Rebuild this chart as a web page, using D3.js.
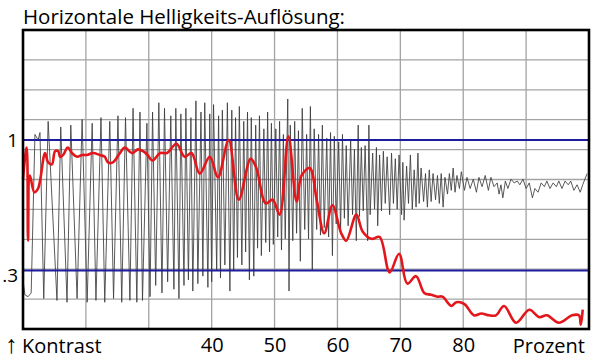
<!DOCTYPE html>
<html>
<head>
<meta charset="utf-8">
<script src="https://cdn.jsdelivr.net/npm/d3@7"></script>
<style>
  body { margin: 0; background: #fff; }
  text { font-family: 'Open Sans', sans-serif; fill: #000; }
</style>
</head>
<body>
<svg id="chart" width="600" height="364"></svg>
<script>
// values
let title = 'Horizontale Helligkeits-Auflösung:'
let xTicks = [40, 50, 60, 70, 80]
let yTicks = [0.3, 1]
let yTickLabels = ['.3', '1']
let refLines = [1, 0.3]

// grey: measured luminance profile [Prozent, Kontrast]
let profile = [
  [10.0, 0.25], [10.3, 0.17], [10.8, 0.16], [11.3, 0.18], [11.9, 1.03], [12.4, 1.00], [12.7, 1.04], [13.3, 0.15],
  [14.0, 1.10], [15.4, 0.14], [16.0, 1.07], [17.0, 0.13], [17.6, 1.08], [18.6, 0.15], [19.4, 1.11], [20.2, 0.13],
  [21.0, 1.09], [21.6, 0.14], [22.4, 1.12], [23.0, 0.13], [23.8, 1.10], [24.4, 0.15], [25.1, 1.13], [25.7, 0.13],
  [26.3, 1.12], [27.0, 0.14], [27.5, 1.17], [28.1, 0.13], [28.6, 1.15], [29.0, 0.14], [29.7, 1.09], [30.2, 0.16],
  [30.6, 1.15], [31.1, 0.22], [31.6, 1.20], [32.1, 0.18], [32.5, 1.17], [33.0, 0.24], [33.5, 1.13], [34.0, 0.20],
  [34.3, 1.17], [34.8, 0.15], [35.1, 1.14], [35.6, 0.22], [35.9, 1.17], [36.3, 0.25], [36.7, 1.12], [37.0, 0.19],
  [37.5, 1.21], [37.8, 0.23], [38.3, 1.15], [38.6, 0.27], [38.9, 1.20], [39.4, 0.21], [39.7, 1.14], [40.0, 0.24],
  [40.3, 1.19], [40.8, 0.30], [41.1, 1.13], [41.4, 0.26], [41.7, 1.16], [42.1, 0.33], [42.5, 1.20], [42.9, 0.19],
  [43.2, 1.16], [43.5, 0.30], [43.8, 1.12], [44.1, 0.37], [44.4, 1.18], [44.8, 0.33], [45.1, 1.10], [45.4, 0.40],
  [45.7, 1.15], [46.0, 0.25], [46.3, 1.12], [46.7, 0.27], [47.0, 1.08], [47.3, 0.42], [47.6, 1.13], [47.9, 0.38],
  [48.3, 1.06], [48.6, 0.45], [48.9, 1.15], [49.2, 0.40], [49.5, 1.09], [49.8, 0.44], [50.2, 1.06], [50.5, 0.48],
  [50.8, 1.10], [51.1, 0.41], [51.4, 1.03], [51.7, 0.47], [52.1, 1.22], [52.3, 0.19], [52.5, 1.08], [52.9, 0.46],
  [53.2, 1.10], [53.5, 0.50], [53.8, 1.05], [54.1, 0.35], [54.4, 1.17], [54.8, 0.52], [55.1, 1.03], [55.4, 0.47],
  [55.7, 1.18], [56.0, 0.30], [56.3, 1.06], [56.7, 0.52], [57.0, 1.03], [57.3, 0.49], [57.6, 1.08], [57.9, 0.53],
  [58.3, 1.01], [58.6, 0.48], [58.9, 1.04], [59.2, 0.38], [59.5, 1.02], [59.8, 0.55], [60.2, 0.99], [60.5, 0.52],
  [60.8, 1.03], [61.1, 0.58], [61.4, 0.97], [61.7, 0.54], [62.1, 1.00], [62.4, 0.60], [62.7, 0.95], [63.0, 0.46],
  [63.3, 1.08], [63.5, 0.59], [63.8, 0.96], [64.1, 0.62], [64.4, 0.97], [64.8, 0.46], [65.0, 1.08], [65.2, 0.60],
  [65.6, 0.93], [65.9, 0.63], [66.2, 0.96], [66.4, 0.54], [66.7, 0.92], [67.0, 0.62], [67.3, 0.94], [67.6, 0.66],
  [67.9, 0.91], [68.3, 0.60], [68.6, 0.93], [68.9, 0.66], [69.2, 0.90], [69.5, 0.63], [69.8, 0.92], [70.2, 0.60],
  [70.4, 0.88], [70.6, 0.57], [71.0, 0.86], [71.3, 0.66], [71.6, 0.92], [71.9, 0.63], [72.2, 0.84], [72.5, 0.64],
  [72.8, 0.93], [73.0, 0.66], [73.3, 0.85], [73.7, 0.67], [74.0, 0.82], [74.3, 0.64], [74.6, 0.84], [74.9, 0.67],
  [75.2, 0.82], [75.6, 0.68], [75.9, 0.81], [76.2, 0.66], [76.5, 0.82], [76.8, 0.64], [77.1, 0.80], [77.5, 0.71],
  [77.8, 0.82], [78.1, 0.73], [78.4, 0.85], [78.7, 0.72], [79.0, 0.81], [79.4, 0.74], [79.7, 0.83], [80.2, 0.73],
  [80.6, 0.80], [81.1, 0.74], [81.6, 0.79], [82.1, 0.72], [82.5, 0.80], [83.0, 0.75], [83.5, 0.81], [84.0, 0.73],
  [84.4, 0.80], [84.9, 0.75], [85.4, 0.77], [85.7, 0.71], [86.0, 0.76], [86.3, 0.69], [86.7, 0.78], [87.1, 0.74],
  [87.6, 0.79], [88.1, 0.77], [88.6, 0.78], [89.0, 0.76], [89.5, 0.79], [90.0, 0.74], [90.5, 0.77], [91.0, 0.69],
  [91.4, 0.74], [91.9, 0.72], [92.4, 0.77], [92.9, 0.75], [93.3, 0.78], [93.8, 0.74], [94.3, 0.77], [94.8, 0.75],
  [95.2, 0.78], [95.7, 0.74], [96.2, 0.78], [96.7, 0.76], [97.1, 0.78], [97.6, 0.73], [98.1, 0.76], [98.6, 0.72],
  [99.0, 0.76], [99.7, 0.82]
]

// red: contrast curve [Prozent, Kontrast]
let contrast = [
  [10.0, 0.79], [10.5, 0.95], [10.6, 0.96], [10.8, 0.46], [11.1, 0.81], [11.8, 0.72], [12.4, 0.74], [13.5, 0.93],
  [14.0, 0.88], [14.6, 0.87], [15.1, 0.94], [15.6, 0.94], [15.9, 0.91], [16.4, 0.92], [17.1, 0.96], [17.8, 0.93],
  [18.6, 0.91], [19.4, 0.92], [20.2, 0.92], [21.1, 0.93], [22.2, 0.92], [23.0, 0.91], [23.5, 0.88], [24.3, 0.88],
  [25.4, 0.93], [26.2, 0.96], [27.3, 0.93], [28.3, 0.95], [29.1, 0.94], [29.8, 0.92], [30.6, 0.89], [31.8, 0.93],
  [32.9, 0.93], [34.4, 0.98], [35.7, 0.91], [36.8, 0.93], [38.1, 0.82], [39.7, 0.91], [41.0, 0.80], [42.7, 1.00],
  [44.3, 0.68], [46.2, 0.90], [47.1, 0.85], [48.6, 0.66], [49.7, 0.68], [50.8, 0.60], [52.2, 1.02], [53.5, 0.67],
  [54.3, 0.81], [55.6, 0.85], [56.7, 0.68], [57.9, 0.50], [59.2, 0.65], [60.6, 0.50], [61.4, 0.46], [63.0, 0.60],
  [64.0, 0.51], [65.4, 0.47], [66.7, 0.48], [68.3, 0.29], [69.8, 0.39], [71.1, 0.23], [72.5, 0.27], [73.8, 0.18],
  [74.9, 0.17], [75.9, 0.16], [76.7, 0.16], [78.1, 0.11], [78.9, 0.13], [80.2, 0.12], [81.7, 0.06], [82.9, 0.07],
  [84.1, 0.06], [85.2, 0.06], [86.5, 0.11], [88.4, 0.02], [90.5, 0.09], [92.1, 0.05], [93.3, 0.06], [95.2, 0.02],
  [97.3, 0.06], [98.4, 0.06], [98.7, 0.01], [99.0, 0.09]
]

let margin = {top: 30, right: 11, bottom: 35, left: 23}
let width = 600 - margin.left - margin.right
let height = 364 - margin.top - margin.bottom

let svg = d3.select('#chart')

let x = d3.scaleLinear()
    .domain([10, 100])
    .range([0, width])

// zero sits a little above the frame, as in the original
let y = d3.scaleLinear()
    .domain([0, 1.59])
    .range([height - 2.5, 0])

// plain 10 x 10 raster behind the curves
let gridY = d3.scaleLinear()
    .domain([0, 10])
    .range([height, 0])

svg.append('text')
    .attr('x', margin.left)
    .attr('y', 24)
    .style('font-size', '20.5px')
    .text(title)

let g = svg.append('g')
    .attr('transform', 'translate(' + margin.left + ',' + margin.top + ')')

let grid = g.append('g')
    .attr('stroke', '#a3a3a3')
    .attr('stroke-width', 1.3)

grid.selectAll('.vline')
    .data(d3.range(20, 100, 10))
  .enter().append('line')
    .attr('class', 'vline')
    .attr('x1', d => x(d))
    .attr('x2', d => x(d))
    .attr('y1', 0)
    .attr('y2', height)

grid.selectAll('.hline')
    .data(d3.range(1, 10))
  .enter().append('line')
    .attr('class', 'hline')
    .attr('x1', 0)
    .attr('x2', width)
    .attr('y1', d => gridY(d))
    .attr('y2', d => gridY(d))

g.append('path')
    .datum(profile)
    .attr('fill', 'none')
    .attr('stroke', '#3c3c3c')
    .attr('stroke-width', 0.85)
    .attr('d', d3.line().x(d => x(d[0])).y(d => y(d[1])))

g.selectAll('.ref')
    .data(refLines)
  .enter().append('line')
    .attr('class', 'ref')
    .attr('x1', 0)
    .attr('x2', width)
    .attr('y1', d => y(d))
    .attr('y2', d => y(d))
    .attr('stroke', '#1c1c9c')
    .attr('stroke-width', 2)

g.append('path')
    .datum(contrast)
    .attr('fill', 'none')
    .attr('stroke', '#e3171b')
    .attr('stroke-width', 2.6)
    .attr('stroke-linejoin', 'round')
    .attr('d', d3.line().curve(d3.curveCatmullRom.alpha(0.5)).x(d => x(d[0])).y(d => y(d[1])))

g.append('rect')
    .attr('width', width)
    .attr('height', height)
    .attr('fill', 'none')
    .attr('stroke', '#000')
    .attr('stroke-width', 2.6)

let xAxis = g.append('g')
    .attr('transform', 'translate(0,' + height + ')')
    .call(d3.axisBottom(x).tickValues(xTicks).tickSize(0).tickPadding(9))

xAxis.select('.domain').remove()
xAxis.selectAll('text')
    .style('font-size', '20px')
    .attr('fill', '#000')

let yAxis = g.append('g')
    .call(d3.axisLeft(y).tickValues(yTicks).tickSize(0).tickPadding(5)
      .tickFormat((d, i) => yTickLabels[i]))

yAxis.select('.domain').remove()
yAxis.selectAll('text')
    .style('font-size', '19px')
    .attr('fill', '#000')
    .attr('dy', d => d < 0.5 ? '0.6em' : '0.35em')

let kontrast = svg.append('text')
    .attr('y', 353)
    .style('font-size', '20px')

kontrast.append('tspan')
    .attr('x', 5)
    .style('font-size', '25px')
    .text('↑')

kontrast.append('tspan')
    .attr('x', 22)
    .text('Kontrast')

svg.append('text')
    .attr('x', margin.left + x(100) - 4)
    .attr('y', 353)
    .attr('text-anchor', 'end')
    .style('font-size', '20px')
    .text('Prozent')
</script>
</body>
</html>
